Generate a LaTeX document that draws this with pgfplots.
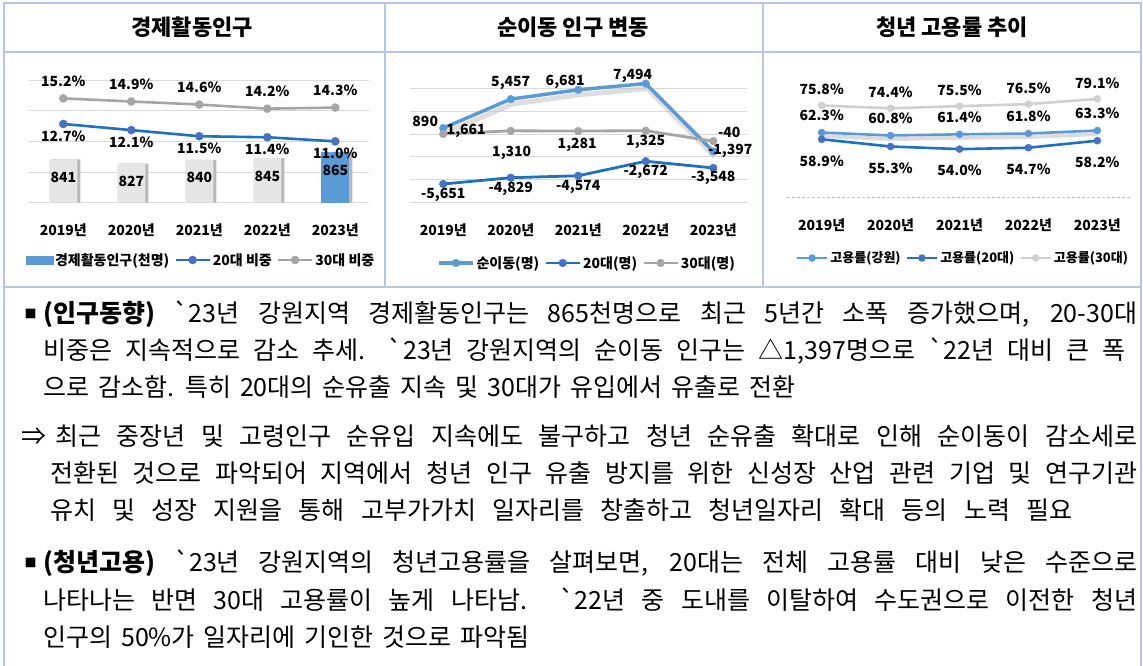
\documentclass[border=0pt]{standalone}
\usepackage{pgfplots}
\pgfplotsset{compat=1.18}
\usepackage{pgfplotstable}
\usepackage{fontspec}
\setmainfont{Noto Sans CJK KR}
\newfontfamily\bodyfont{Noto Sans CJK KR}[Ligatures=TeXOff]
\definecolor{framec}{HTML}{B4C7E7}
\definecolor{gridc}{HTML}{D9D9D9}
\definecolor{lblue}{HTML}{5B9BD5}
\definecolor{dblue}{HTML}{1F70C1}
\definecolor{mblue}{HTML}{4472C4}
\definecolor{mgray}{HTML}{A5A5A5}
\definecolor{lgray}{HTML}{D0D0D0}
\definecolor{barg}{HTML}{E6E6E6}
\newcommand\lf{\bfseries\fontsize{14}{14}\selectfont}
\newcommand\lfs{\bfseries\fontsize{13}{13}\selectfont}
\newcommand\ttf{\bfseries\fontsize{22}{22}\selectfont}
\tikzset{lab/.style={font=\lf, text=black, anchor=center}}
\pgfplotsset{
  /pgf/number format/assume math mode=true,
  lline/.style={legend image code/.code={\draw[mark repeat=2,mark phase=2,##1] plot coordinates {(0pt,0pt) (17pt,0pt) (34pt,0pt)};}},
  sline/.style={legend image code/.code={\draw[mark repeat=2,mark phase=2,##1] plot coordinates {(0pt,0pt) (15pt,0pt) (30pt,0pt)};}},
  blegend/.style={legend image code/.code={\fill[lblue] (0pt,-4pt) rectangle (27pt,4pt);}},
  base/.style={scale only axis, anchor=south west, clip=false, xmin=-0.5, xmax=4.5,
    axis line style={draw=none}, tick style={draw=none}, major tick length=0pt,
    yticklabels={}, xtick={0,...,4}, xticklabels={2019년,2020년,2021년,2022년,2023년},
    xticklabel style={font=\lf, anchor=center},
    grid style={draw=gridc, line width=0.9pt}},
  lbl/.style={point meta=explicit symbolic, nodes near coords={\pgfplotspointmeta},
    visualization depends on={\thisrow{dx}\as\dx},
    visualization depends on={\thisrow{dy}\as\dy},
    nodes near coords style={lab, xshift=\dx pt, yshift=\dy pt}},
  pct/.style={nodes near coords={\pgfmathprintnumber[fixed,fixed zerofill,precision=1]{\pgfplotspointmeta}\%},
    nodes near coords style={lab, yshift=#1}},
  legs/.style={legend columns=3, legend style={draw=none, fill=none, font=\lf, anchor=center,
    /tikz/every even column/.append style={column sep=3pt}}},
}
\pgfplotstableread{
x s20 s30
0 12.7 15.2
1 12.1 14.9
2 11.5 14.6
3 11.4 14.2
4 11.0 14.3
}\tabA
\pgfplotstableread{
x y lab dx dy
0 1661 890 -18 7
1 5457 5,457 0 16
2 6681 6,681 -13 8
3 7494 7,494 -13 8
4 -1397 -1,397 17 1
}\tabNet
\pgfplotstableread{
x y lab dx dy
0 -5651 -5,651 0 -11
1 -4829 -4,829 0 -11
2 -4574 -4,574 0 -11
3 -2672 -2,672 0 -11
4 -3548 -3,548 0 -10
}\tabTw
\pgfplotstableread{
x y lab dx dy
0 890 1,661 23 3
1 1310 1,310 1 -22
2 1281 1,281 -1 -14
3 1325 1,325 0 -11
4 -40 -40 16 9
}\tabTh
\pgfplotstableread{
x g a20 a30
0 62.3 58.9 75.8
1 60.8 55.3 74.4
2 61.4 54.0 75.5
3 61.8 54.7 76.5
4 63.3 58.2 79.1
}\tabE
\newcommand\bfnt{\bodyfont\fontsize{25}{30}\selectfont\spaceskip=9pt plus 60pt minus 3.5pt\relax}
\newcommand\jl[4]{\node[anchor=base west,inner sep=0pt] at (#1,#2) {\bfnt\makebox[#3pt][s]{#4}};}
\begin{document}
\begin{tikzpicture}
\fill[white] (0,0) rectangle (1143pt,-665pt);
% ---------- panel 1 ----------
\begin{axis}[base, at={(29.3pt,-202.7pt)}, width=340pt, height=122.7pt,
  ymin=700, ymax=1100, ytick={700,800,900,1000,1100}, ymajorgrids,
  xticklabel style={yshift=-27.3pt}]
\addplot[ybar, bar width=28pt, bar shift=3pt, fill=black!28, draw=none, forget plot] coordinates {(0,841)(1,827)(2,840)(3,845)(4,865)};
\addplot[ybar, bar width=28pt, bar shift=0pt, fill=barg, draw=none, nodes near coords, nodes near coords style={lab, yshift=-18pt}] coordinates {(0,841)(1,827)(2,840)(3,845)};
\addplot[ybar, bar width=28pt, bar shift=0pt, fill=lblue, draw=none, nodes near coords, nodes near coords style={lab, yshift=-18pt}] coordinates {(4,865)};
\end{axis}
\begin{axis}[base, hide axis, at={(29.3pt,-202.7pt)}, width=340pt, height=122.7pt,
  ymin=5, ymax=17, legs, legend style={at={(0.505,-0.467)}}]
\addlegendimage{blegend}\addlegendentry{경제활동인구(천명)}
\addplot[dblue, line width=2.6pt, mark=*, mark size=4pt, mark options={solid, fill=mblue, draw=mblue, line width=0.5pt}, lline, pct=-12pt] table[x=x,y=s20]{\tabA};
\addlegendentry{20대 비중}
\addplot[mgray, line width=2.6pt, mark=*, mark size=4pt, mark options={solid, fill=mgray, draw=mgray, line width=0.5pt}, lline, pct=17pt] table[x=x,y=s30]{\tabA};
\addlegendentry{30대 비중}
\end{axis}
% ---------- panel 2 ----------
\begin{axis}[base, at={(409.5pt,-202.7pt)}, width=337.5pt, height=114.4pt,
  ymin=-8100, ymax=6875, ytick={-8100,-5105,-2110,885,3880,6875}, ymajorgrids,
  xticklabel style={yshift=-27.3pt}, legs, legend style={at={(0.526,-0.527)}}]
\addplot[black!25, line width=5pt, opacity=0.5, forget plot, transform canvas={xshift=1.5pt,yshift=-5pt}] table[x=x,y=y]{\tabNet};
\addplot[lblue, line width=3.5pt, mark=*, mark size=3.8pt, mark options={solid, fill=lblue, draw=lblue, line width=0.5pt}, lline, lbl] table[x=x,y=y,meta=lab]{\tabNet};
\addlegendentry{순이동(명)}
\addplot[dblue, line width=2.8pt, mark=*, mark size=3.8pt, mark options={solid, fill=mblue, draw=mblue, line width=0.5pt}, lline, lbl] table[x=x,y=y,meta=lab]{\tabTw};
\addlegendentry{20대(명)}
\addplot[mgray, line width=2.8pt, mark=*, mark size=3.8pt, mark options={solid, fill=mgray, draw=mgray, line width=0.5pt}, lline, lbl] table[x=x,y=y,meta=lab]{\tabTh};
\addlegendentry{30대(명)}
\end{axis}
% ---------- panel 3 ----------
\begin{axis}[base, at={(787.2pt,-197.1pt)}, width=344.6pt, height=120pt,
  ymin=30, ymax=90, ytick={30}, ymajorgrids, grid style={draw=black!25, densely dashed, line width=0.8pt},
  xticklabel style={yshift=-27.9pt}, legs, legend style={at={(0.51,-0.5075)}, font=\lfs}]
\addplot[black!30, line width=4pt, opacity=0.45, forget plot, transform canvas={yshift=-3.5pt}] table[x=x,y=g]{\tabE};
\addplot[lblue, line width=2.6pt, mark=*, mark size=3.5pt, mark options={solid, fill=lblue, draw=lblue, line width=0.5pt}, sline, pct=17.5pt] table[x=x,y=g]{\tabE};
\addlegendentry{고용률(강원)}
\addplot[dblue, line width=2.6pt, mark=*, mark size=3.5pt, mark options={solid, fill=mblue, draw=mblue, line width=0.5pt}, sline, pct=-21.5pt] table[x=x,y=a20]{\tabE};
\addlegendentry{고용률(20대)}
\addplot[lgray, line width=2.6pt, mark=*, mark size=3.5pt, mark options={solid, fill=lgray, draw=lgray, line width=0.5pt}, sline, pct=16pt] table[x=x,y=a30]{\tabE};
\addlegendentry{고용률(30대)}
\end{axis}
% ---------- frame, titles, text ----------
\begin{scope}[x=1pt,y=-1pt]
\draw[framec, line width=1.3pt] (4,668) -- (4,3) -- (1141,3) -- (1141,668);
\draw[framec, line width=2.5pt] (4,52) -- (1141,52);
\draw[framec, line width=1.3pt] (385,3) -- (385,287) (763,3) -- (763,287);
\draw[framec, line width=1.5pt] (4,287) -- (1141,287);
\node[font=\ttf] at (192,27) {경제활동인구};
\node[font=\ttf] at (573,27) {순이동 인구 변동};
\node[font=\ttf] at (952,27) {청년 고용률 추이};
\node[inner sep=0pt, font=\bodyfont\fontsize{12}{12}\selectfont] at (30.5,314) {■};
\jl{43}{322.5}{1094}{\textbf{(인구동향)} `23년 강원지역 경제활동인구는 865천명으로 최근 5년간 소폭 증가했으며, 20-30대}
\jl{43}{359.5}{1082}{비중은 지속적으로 감소 추세. `23년 강원지역의 순이동 인구는 △1,397명으로 `22년 대비 큰 폭}
\node[anchor=base west,inner sep=0pt] at (43,396.5) {\bfnt 으로 감소함. 특히 20대의 순유출 지속 및 30대가 유입에서 유출로 전환};
\node[anchor=base west,inner sep=0pt] at (21,445.5) {\bfnt ⇒};
\jl{55}{445.5}{1082}{최근 중장년 및 고령인구 순유입 지속에도 불구하고 청년 순유출 확대로 인해 순이동이 감소세로}
\jl{50}{482.5}{1087}{전환된 것으로 파악되어 지역에서 청년 인구 유출 방지를 위한 신성장 산업 관련 기업 및 연구기관}
\jl{50}{519.5}{1022}{유치 및 성장 지원을 통해 고부가가치 일자리를 창출하고 청년일자리 확대 등의 노력 필요}
\node[inner sep=0pt, font=\bodyfont\fontsize{12}{12}\selectfont] at (30.5,563) {■};
\jl{43}{571.5}{1094}{\textbf{(청년고용)} `23년 강원지역의 청년고용률을 살펴보면, 20대는 전체 고용률 대비 낮은 수준으로}
\jl{43}{609.5}{1094}{나타나는 반면 30대 고용률이 높게 나타남. `22년 중 도내를 이탈하여 수도권으로 이전한 청년}
\node[anchor=base west,inner sep=0pt] at (43,646.5) {\bfnt 인구의 50\%가 일자리에 기인한 것으로 파악됨};
\end{scope}
\pgfresetboundingbox
\path[use as bounding box] (0,0) rectangle (1143pt,-665pt);
\end{tikzpicture}
\end{document}
